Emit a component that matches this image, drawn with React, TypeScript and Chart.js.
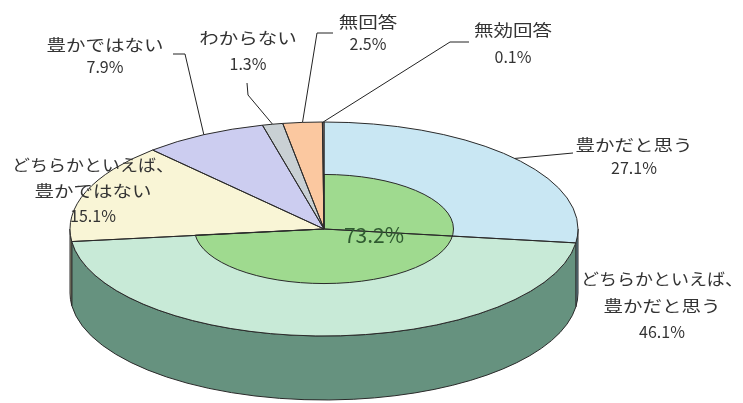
import React, { useEffect, useRef } from 'react';
import { Chart, registerables } from 'chart.js';

Chart.register(...registerables);

// ---- data ----
const categories = [
  '豊かだと思う',
  'どちらかといえば、\n豊かだと思う',
  'どちらかといえば、\n豊かではない',
  '豊かではない',
  'わからない',
  '無回答',
  '無効回答',
];
const values = [27.1, 46.1, 15.1, 7.9, 1.3, 2.5, 0.1];
const innerCategories = ['豊かだと思う（計）', 'その他'];
const innerValues = [73.2, 26.8];

// ---- styles ----
const topColors = ['#c9e7f3', '#c8ead7', '#f9f5d6', '#cccdf0', '#c9d0d4', '#fbc8a0', '#f4c0b0'];
const sideColors = ['#6f93a3', '#66927f', '#a5a283', '#8a8aa8', '#8a9296', '#b08a70', '#b08a70'];
const innerColors = ['#9fda8f', 'rgba(0,0,0,0)'];

const W = 743;
const H = 403;
const R = 170; // chart.js radius
const CX = 324;
const CY = 229;
const RX = 254;
const RY = 107;
const DEPTH = 64;
const SX = RX / R;
const SY = RY / R;
const MAX_LINE_W = 162;

const LABEL_LAYOUT: { x: number; base: number[]; leader: number[][] | null }[] = [
  { x: 634, base: [151, 174], leader: [[573, 153]] },
  { x: 662, base: [285, 312, 338], leader: null },
  { x: 93, base: [171, 197, 222], leader: null },
  { x: 105, base: [51, 73], leader: [[173, 54], [185, 54]] },
  { x: 248, base: [44, 70], leader: [[247, 83], [248, 95]] },
  { x: 368, base: [28, 50], leader: [[333, 33], [317, 33]] },
  { x: 513, base: [36, 63], leader: [[469, 42], [450, 42]] },
];

function applyFlatten(ctx: CanvasRenderingContext2D, cx: number, cy: number) {
  ctx.translate(cx, cy);
  ctx.scale(SX, SY);
  ctx.translate(-cx, -cy);
}

const pie3d = {
  id: 'pie3d',
  afterDatasetUpdate(chart: any, args: any) {
    if (args.index === 0) {
      const meta = chart.getDatasetMeta(0);
      meta.data.forEach((a: any) => {
        a.innerRadius = 0;
      });
    }
  },
  beforeDatasetsDraw(chart: any) {
    const ctx: CanvasRenderingContext2D = chart.ctx;
    const meta = chart.getDatasetMeta(0);
    // side walls
    meta.data.forEach((a: any, i: number) => {
      const s = Math.max(a.startAngle, 0);
      const e = Math.min(a.endAngle, Math.PI);
      if (e <= s) return;
      const rx = a.outerRadius * SX;
      const ry = a.outerRadius * SY;
      ctx.save();
      ctx.beginPath();
      ctx.ellipse(a.x, a.y, rx, ry, 0, s, e);
      ctx.ellipse(a.x, a.y + DEPTH, rx, ry, 0, e, s, true);
      ctx.closePath();
      ctx.fillStyle = sideColors[i];
      ctx.fill();
      ctx.strokeStyle = '#2a2a2a';
      ctx.lineWidth = 1;
      ctx.stroke();
      ctx.restore();
    });
    ctx.save();
    const a0 = meta.data[0];
    applyFlatten(ctx, a0.x, a0.y);
  },
  afterDatasetsDraw(chart: any) {
    const ctx: CanvasRenderingContext2D = chart.ctx;
    ctx.restore();
    const outline = (a: any) => {
      ctx.save();
      applyFlatten(ctx, a.x, a.y);
      ctx.beginPath();
      ctx.moveTo(a.x, a.y);
      ctx.arc(a.x, a.y, a.outerRadius, a.startAngle, a.endAngle);
      ctx.closePath();
      ctx.restore();
      ctx.save();
      ctx.strokeStyle = '#2a2a2a';
      ctx.lineWidth = 1;
      ctx.lineJoin = 'round';
      ctx.stroke();
      ctx.restore();
    };
    chart.getDatasetMeta(0).data.forEach((a: any) => outline(a));
    const inner = chart.getDatasetMeta(1).data[0];
    if (inner) outline(inner);
  },
  afterDraw(chart: any) {
    const ctx: CanvasRenderingContext2D = chart.ctx;
    const meta = chart.getDatasetMeta(0);
    ctx.save();
    ctx.textAlign = 'center';
    ctx.textBaseline = 'alphabetic';
    meta.data.forEach((a: any, i: number) => {
      const lay = LABEL_LAYOUT[i];
      const lines = categories[i].split('\n').concat([values[i].toFixed(1) + '%']);
      ctx.fillStyle = '#333333';
      ctx.font = '16px "Noto Sans CJK JP"';
      lines.forEach((ln, k) => {
        const cjk = /[^\x00-\x7f]/.test(ln);
        const w = ctx.measureText(ln).width;
        const sc = cjk ? Math.min(1.22, MAX_LINE_W / w) : 1.0;
        ctx.save();
        ctx.translate(lay.x, lay.base[k]);
        ctx.scale(sc, 1);
        ctx.fillText(ln, 0, 0);
        ctx.restore();
      });
      if (lay.leader) {
        const m = (a.startAngle + a.endAngle) / 2;
        const ax = a.x + a.outerRadius * SX * Math.cos(m);
        const ay = a.y + a.outerRadius * SY * Math.sin(m);
        ctx.beginPath();
        ctx.moveTo(lay.leader[0][0], lay.leader[0][1]);
        for (let k = 1; k < lay.leader.length; k++) ctx.lineTo(lay.leader[k][0], lay.leader[k][1]);
        ctx.lineTo(ax, ay);
        ctx.strokeStyle = '#222';
        ctx.lineWidth = 1;
        ctx.stroke();
      }
    });
    // inner total label
    ctx.fillStyle = '#2f5a30';
    ctx.font = '21px "Noto Sans CJK JP"';
    ctx.fillText(innerValues[0].toFixed(1) + '%', 374, 243);
    ctx.restore();
  },
};

export default function App() {
  const ref = useRef<HTMLCanvasElement | null>(null);
  useEffect(() => {
    document.body.style.margin = '0';
    const c = ref.current;
    if (!c) return;
    const chart = new Chart(c, {
      type: 'pie',
      data: {
        labels: categories,
        datasets: [
          {
            label: '回答',
            data: values,
            backgroundColor: topColors,
            borderWidth: 0,
            order: 2,
            weight: 1,
          } as any,
          {
            label: '合計',
            data: innerValues,
            backgroundColor: innerColors,
            borderWidth: 0,
            order: 1,
            weight: 1.04,
          } as any,
        ],
      },
      options: {
        responsive: false,
        animation: false,
        events: [],
        layout: {
          padding: { left: CX - R, right: W - (CX + R), top: CY - R, bottom: H - (CY + R) },
        },
        plugins: {
          legend: { display: false },
          tooltip: { enabled: false },
        },
      },
      plugins: [pie3d],
    });
    return () => chart.destroy();
  }, []);
  return (
    <div style={{ width: W, height: H, background: '#fff' }}>
      <canvas ref={ref} width={W} height={H} style={{ display: 'block' }} />
    </div>
  );
}
